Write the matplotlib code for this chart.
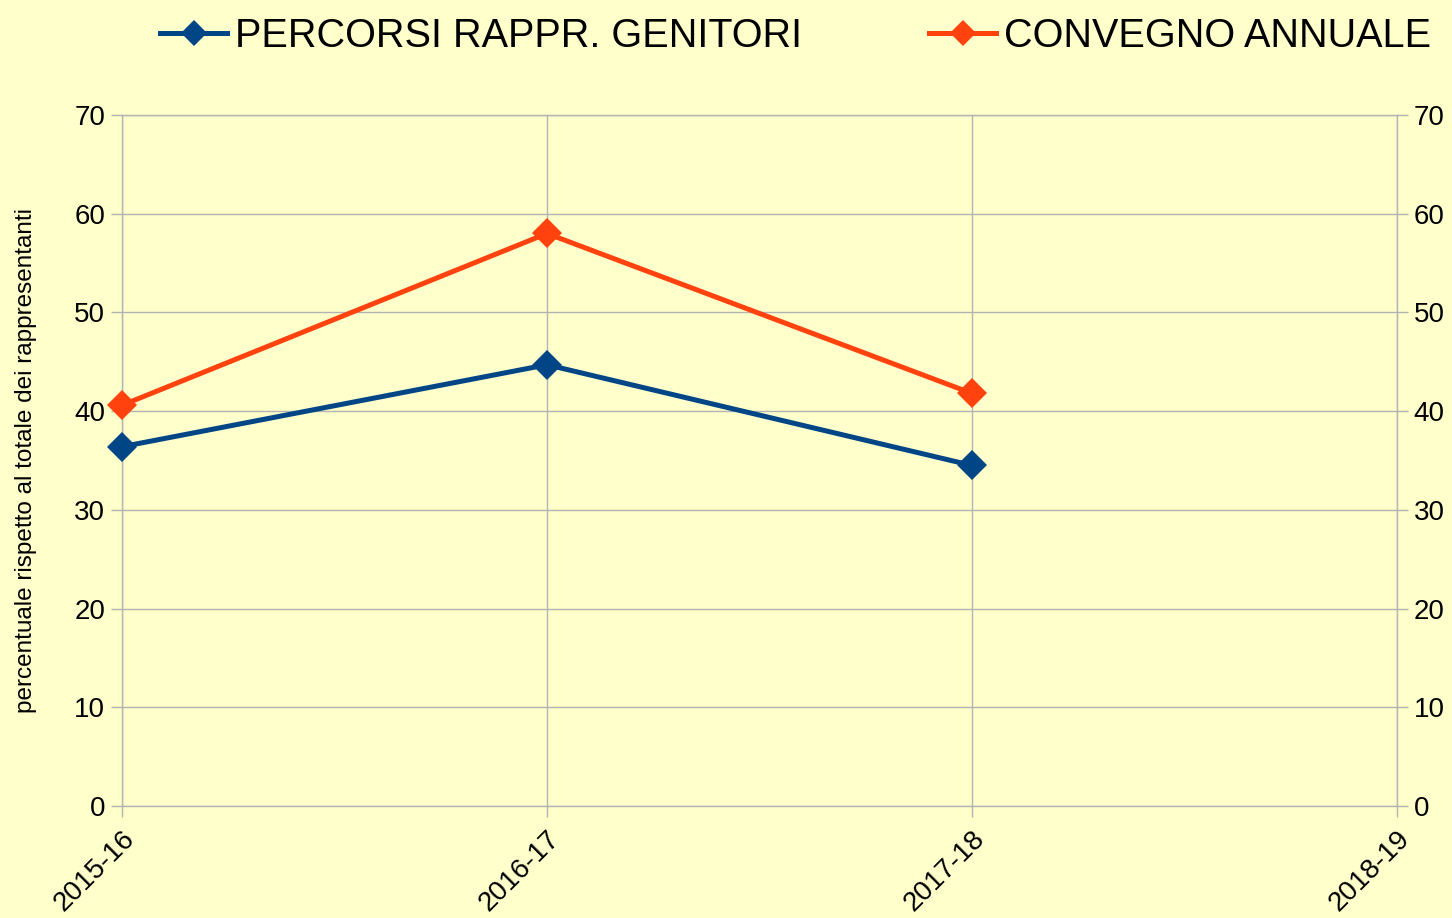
import matplotlib
matplotlib.use("Agg")
import matplotlib.pyplot as plt
import numpy as np

categories = ["2015-16", "2016-17", "2017-18", "2018-19"]
percorsi = [36.4, 44.7, 34.5, np.nan]
convegno = [40.6, 58.0, 41.8, np.nan]
series_names = ["PERCORSI RAPPR. GENITORI", "CONVEGNO ANNUALE"]
y_ticks = [0, 10, 20, 30, 40, 50, 60, 70]
y_label = "percentuale rispetto al totale dei rappresentanti"

plt.rcParams['font.family'] = ['Liberation Sans', 'DejaVu Sans']
BG = "#ffffcc"
GRID = "#b3b3b3"
BLUE = "#004586"
ORANGE = "#ff420e"

fig = plt.figure(figsize=(14.52, 9.18), dpi=100, facecolor=BG)
ax = fig.add_axes([0.0840, 0.1220, 0.9621 - 0.0840, 0.8747 - 0.1220], facecolor=BG)

x = np.arange(len(categories))
l1, = ax.plot(x, percorsi, color=BLUE, lw=3.6, marker='D', ms=15, mew=0, label=series_names[0], zorder=3, clip_on=False)
l2, = ax.plot(x, convegno, color=ORANGE, lw=3.6, marker='D', ms=15, mew=0, label=series_names[1], zorder=3, clip_on=False)

ax.set_xlim(0, len(categories) - 1)
ax.set_ylim(0, 70)
ax.set_yticks(y_ticks)
ax.set_xticks(x)
ax.set_xticklabels(categories, rotation=45, ha='right', rotation_mode='anchor', fontsize=20)
ax.grid(True, color=GRID, lw=1)
for s in ax.spines.values():
    s.set_color(GRID)
    s.set_linewidth(1)
ax.tick_params(axis='both', color=GRID, length=8, width=1, labelsize=20)
ax.tick_params(axis='y', right=True, labelright=True, pad=4)
ax.tick_params(axis='x', pad=6)
ax.set_ylabel(y_label, fontsize=17.5, labelpad=27)

fig.legend(handles=[l1, l2], loc='upper center', bbox_to_anchor=(0.548, 1.02), ncol=2,
           frameon=False, fontsize=28.5, handlelength=1.7, handletextpad=0.2,
           columnspacing=3.2, markerscale=0.85)

fig.savefig("out.png", dpi=100, facecolor=BG)
